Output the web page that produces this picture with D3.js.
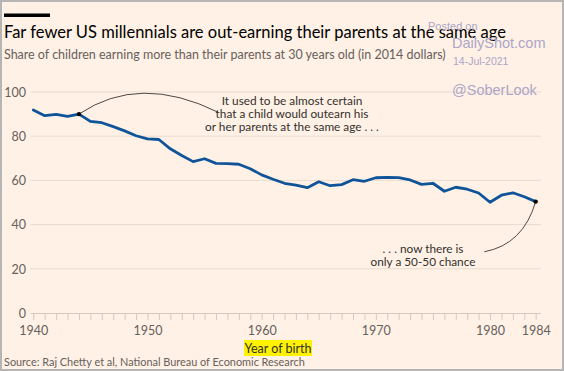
<!DOCTYPE html>
<html>
<head>
<meta charset="utf-8">
<script src="https://cdn.jsdelivr.net/npm/d3@7"></script>
<style>
  html, body { margin: 0; padding: 0; background: #fff1e5; }
  svg { display: block; font-family: Lato, "Open Sans", sans-serif; }
</style>
</head>
<body>
<script>
/**
 * DATA
 */
const startYear = 1940;
// Share of children earning more than their parents at 30 (%), one per birth year 1940..1984
const share = [
  91.9, 89.3, 89.9, 89.0, 90.0, 86.7, 86.1, 84.3, 82.4, 80.2,
  78.8, 78.5, 74.3, 71.3, 68.5, 69.8, 67.7, 67.6, 67.3, 65.3,
  62.5, 60.5, 58.7, 57.9, 56.7, 59.4, 57.6, 58.1, 60.3, 59.6,
  61.2, 61.4, 61.3, 60.2, 58.2, 58.7, 55.1, 56.9, 56.0, 54.3,
  50.1, 53.3, 54.4, 52.6, 50.4,
];
const yTicks = [0, 20, 40, 60, 80, 100];
const xTickLabels = [1940, 1950, 1960, 1970, 1980, 1984];
const markedYears = [1944, 1984];

const title = "Far fewer US millennials are out-earning their parents at the same age";
const subtitle = "Share of children earning more than their parents at 30 years old (in 2014 dollars)";
const source = "Source: Raj Chetty et al, National Bureau of Economic Research";
const note1 = ["It used to be almost certain", "that a child would outearn his", "or her parents at the same age . . ."];
const note2 = [". . . now there is", "only a 50-50 chance"];

/**
 * CONSTANTS
 */
const WIDTH = 564;
const HEIGHT = 371;
const BLUE = "#0f5499";
const GREY_TEXT = "#66605c";
const DARK_TEXT = "#33302e";
const GRID = "#e9dccf";
const WATERMARK = "#aca6c8";
const NOTE_LEADING = 13;

const data = share.map((v, i) => ({ year: startYear + i, value: v }));

const svg = d3.select("body").append("svg")
  .attr("width", WIDTH)
  .attr("height", HEIGHT);

svg.append("rect")
  .attr("x", 1).attr("y", 1)
  .attr("width", WIDTH - 2).attr("height", HEIGHT - 2)
  .attr("fill", "#fff1e5")
  .attr("stroke", "#b5b5b5")
  .attr("stroke-width", 2);

const x = d3.scaleLinear().domain([1940, 1984]).range([33.3, 535.7]);
const y = d3.scaleLinear().domain([0, 100]).range([313, 92]);

// Stretch/shrink a text's font-size so it spans roughly the given width
const fitText = (sel, width) => {
  const node = sel.node();
  const size = parseFloat(sel.attr("font-size"));
  const len = node.getComputedTextLength();
  sel.attr("font-size", (size * width / len).toFixed(2));
};

/**
 * HEADER
 */
svg.append("rect")
  .attr("x", 4).attr("y", 13.5)
  .attr("width", 46).attr("height", 3.5)
  .attr("fill", "#000");

svg.append("text")
  .attr("x", 4).attr("y", 37.5)
  .attr("font-size", 16)
  .attr("fill", "#000")
  .text(title)
  .call(fitText, 502);

svg.append("text")
  .attr("x", 4).attr("y", 58.5)
  .attr("font-size", 13)
  .attr("fill", GREY_TEXT)
  .text(subtitle)
  .call(fitText, 442);

/**
 * GRID + AXES
 */
const gridG = svg.append("g");
gridG.selectAll("line")
  .data(yTicks.filter((d) => d > 0))
  .join("line")
  .attr("x1", 30.5).attr("x2", 541)
  .attr("y1", (d) => y(d)).attr("y2", (d) => y(d))
  .attr("stroke", GRID)
  .attr("stroke-width", 1);

const yAxis = svg.append("g")
  .attr("transform", "translate(26,0)")
  .call(d3.axisLeft(y).tickValues(yTicks).tickSize(0).tickPadding(0));
yAxis.select(".domain").remove();
yAxis.selectAll("text")
  .attr("font-family", "Lato, sans-serif")
  .attr("font-size", 12.5)
  .attr("fill", GREY_TEXT)
  .attr("dy", "0.35em");

const xAxis = svg.append("g")
  .attr("transform", `translate(0,${y(0)})`)
  .call(d3.axisBottom(x).tickValues(d3.range(1940, 1985)).tickSize(7).tickFormat(""));
xAxis.select(".domain")
  .attr("d", `M30.5,0.5H541`)
  .attr("stroke", "#d6c9bd");
xAxis.selectAll(".tick line").attr("stroke", "#d6c9bd");

const xLabels = svg.append("g")
  .attr("transform", `translate(0,${y(0)})`)
  .call(d3.axisBottom(x).tickValues(xTickLabels).tickFormat(d3.format("d")).tickSize(0).tickPadding(13));
xLabels.select(".domain").remove();
xLabels.selectAll("text")
  .attr("font-family", "Lato, sans-serif")
  .attr("font-size", 12.5)
  .attr("fill", GREY_TEXT);

/**
 * LINE
 */
const line = d3.line()
  .x((d) => x(d.year))
  .y((d) => y(d.value));

svg.append("path")
  .datum(data)
  .attr("d", line)
  .attr("fill", "none")
  .attr("stroke", BLUE)
  .attr("stroke-width", 2.8)
  .attr("stroke-linejoin", "round")
  .attr("stroke-linecap", "round");

/**
 * ANNOTATIONS
 */
const marked = data.filter((d) => markedYears.includes(d.year));
const p1 = marked[0];
const p2 = marked[1];

// Arc from the 1944 point over to the first note
svg.append("path")
  .attr("d", `M${x(p1.year)},${y(p1.value)} Q${x(1949.3)},${y(108.5)} ${x(1956.2)},${y(90.8)}`)
  .attr("fill", "none")
  .attr("stroke", "#4d4845")
  .attr("stroke-width", 1);

// Curve from the second note up to the 1984 point
svg.append("path")
  .attr("d", `M${x(1979.5)},${y(27.7)} Q${x(1982.9)},${y(31)} ${x(p2.year)},${y(p2.value)}`)
  .attr("fill", "none")
  .attr("stroke", "#4d4845")
  .attr("stroke-width", 1);

svg.selectAll("circle.mark")
  .data(marked)
  .join("circle")
  .attr("class", "mark")
  .attr("cx", (d) => x(d.year))
  .attr("cy", (d) => y(d.value))
  .attr("r", 2.2)
  .attr("fill", "#000");

svg.append("text")
  .attr("x", 292).attr("y", 104.5)
  .attr("text-anchor", "middle")
  .attr("font-size", 11.8)
  .attr("fill", DARK_TEXT)
  .selectAll("tspan")
  .data(note1)
  .join("tspan")
  .attr("x", 292)
  .attr("dy", (d, i) => (i === 0 ? 0 : NOTE_LEADING))
  .text((d) => d);

svg.append("text")
  .attr("x", 423).attr("y", 252.5)
  .attr("text-anchor", "middle")
  .attr("font-size", 11.8)
  .attr("fill", DARK_TEXT)
  .selectAll("tspan")
  .data(note2)
  .join("tspan")
  .attr("x", 423)
  .attr("dy", (d, i) => (i === 0 ? 0 : NOTE_LEADING))
  .text((d) => d);

/**
 * FOOTER
 */
svg.append("rect")
  .attr("x", 244).attr("y", 340)
  .attr("width", 68).attr("height", 16)
  .attr("fill", "#fff200");

svg.append("text")
  .attr("x", 278).attr("y", 352.5)
  .attr("text-anchor", "middle")
  .attr("font-size", 12.5)
  .attr("fill", DARK_TEXT)
  .text("Year of birth");

svg.append("text")
  .attr("x", 4).attr("y", 366)
  .attr("font-size", 12.5)
  .attr("fill", GREY_TEXT)
  .text(source)
  .call(fitText, 301);

/**
 * WATERMARK
 */
const wm = svg.append("g").attr("fill", WATERMARK).attr("font-family", "Arial, 'Liberation Sans', sans-serif");
wm.append("text").attr("x", 428).attr("y", 29.5).attr("font-size", 11).text("Posted on");
wm.append("text").attr("x", 452).attr("y", 47.5).attr("font-size", 14.5).text("DailyShot.com");
wm.append("text").attr("x", 453).attr("y", 64.5).attr("font-size", 10.5).text("14-Jul-2021");
wm.append("text").attr("x", 452).attr("y", 95).attr("font-size", 14.5).text("@SoberLook");
</script>
</body>
</html>
